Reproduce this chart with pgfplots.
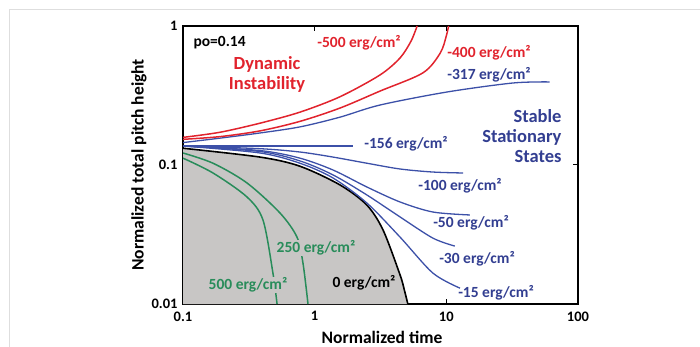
\documentclass[border=0pt]{standalone}
\usepackage{pgfplots}
\pgfplotsset{compat=1.18}
\usepackage{fontspec}
\setmainfont{Carlito}
\definecolor{cred}{RGB}{225,35,45}
\definecolor{cblue}{RGB}{60,80,168}
\definecolor{ctxtblue}{RGB}{50,62,145}
\definecolor{cgreen}{RGB}{40,140,90}
\definecolor{cgray}{RGB}{200,198,197}
\definecolor{lgray}{RGB}{222,222,222}
\newcommand{\fa}{\fontsize{17.5}{20}\selectfont\bfseries}
\newcommand{\fb}{\fontsize{15.5}{18}\selectfont\bfseries}
\newcommand{\fc}{\fontsize{18.5}{20}\selectfont\bfseries}
\begin{document}
\begin{tikzpicture}[x=1pt,y=1pt]
\path[use as bounding box] (0,0) rectangle (700,347);
\draw[line width=1pt, color=lgray] (9,0) -- (9,337) -- (700,337);
\begin{axis}[at={(183pt,43pt)}, anchor=south west, scale only axis,
  width=395pt, height=278pt,
  xmode=log, ymode=log, xmin=0.1, xmax=100, ymin=0.01, ymax=1,
  log origin y=infty,
  xtick={0.1,1,10,100}, xticklabels={0.1,1,10,100},
  ytick={0.01,0.1,1}, yticklabels={0.01,0.1,1},
  xminorticks=false, yminorticks=false,
  tick align=inside, major tick length=5pt,
  axis line style={line width=1.8pt},
  every tick/.style={black, line width=1pt},
  ticklabel style={font=\fontsize{14.5}{16}\selectfont\bfseries},
  xticklabel style={yshift=-4pt},
  yticklabel style={xshift=-2pt},
  clip=true]
% gray region under 0 erg/cm2
\addplot[smooth, draw=none, fill=cgray] coordinates {
 (0.1,0.132) (0.385,0.114) (0.773,0.098) (1.56,0.0718) (2.49,0.0515) (3.31,0.034) (4.45,0.0162) (4.8,0.0126) (5.1,0.01)} \closedcycle;
% green curves
\addplot[smooth, cgreen, line width=1.5pt] coordinates {
 (0.1,0.112) (0.169,0.0876) (0.306,0.0589) (0.405,0.0402) (0.482,0.0167) (0.518,0.01)};
\addplot[smooth, cgreen, line width=1.5pt] coordinates {
 (0.1,0.122) (0.169,0.103) (0.306,0.0743) (0.546,0.0451) (0.734,0.0303) (0.815,0.0197) (0.89,0.01)};
% black 0 curve
\addplot[smooth, black, line width=1.6pt] coordinates {
 (0.1,0.132) (0.385,0.114) (0.773,0.098) (1.56,0.0718) (2.49,0.0515) (3.31,0.034) (4.45,0.0162) (4.8,0.0126) (5.1,0.01)};
% blue curves
\addplot[smooth, cblue, line width=1.3pt] coordinates {
 (0.1,0.137) (0.385,0.122) (0.773,0.103) (1.38,0.0806) (2.49,0.0533) (4.45,0.0303) (7.9,0.0167) (12.7,0.0130)};
\addplot[smooth, cblue, line width=1.3pt] coordinates {
 (0.1,0.137) (0.385,0.125) (0.773,0.107) (1.38,0.0848) (2.49,0.0609) (4.45,0.0423) (7.9,0.0298) (11.6,0.0261)};
\addplot[smooth, cblue, line width=1.3pt] coordinates {
 (0.1,0.137) (0.385,0.127) (0.773,0.112) (1.38,0.092) (2.49,0.0695) (4.45,0.0542) (7.9,0.0459) (15.1,0.0437)};
\addplot[smooth, cblue, line width=1.3pt] coordinates {
 (0.1,0.137) (0.385,0.131) (0.773,0.124) (1.38,0.114) (2.49,0.103) (4.45,0.0936) (7.9,0.089) (13.4,0.0876)};
\addplot[cblue, line width=1.3pt] coordinates {(0.1,0.137) (1.95,0.137)};
\addplot[smooth, cblue, line width=1.3pt] coordinates {
 (0.1,0.145) (0.191,0.156) (0.385,0.170) (0.773,0.188) (1.56,0.221) (3.13,0.270) (10.1,0.335) (32,0.389) (61,0.396)};
% red curves
\addplot[smooth, cred, line width=1.5pt] coordinates {
 (0.1,0.153) (0.191,0.160) (0.385,0.176) (0.773,0.206) (1.56,0.257) (3.13,0.34) (6.64,0.46) (9.0,0.64) (10.0,0.85) (10.4,1.0)};
\addplot[smooth, cred, line width=1.5pt] coordinates {
 (0.1,0.158) (0.191,0.172) (0.385,0.200) (0.773,0.240) (1.56,0.31) (3.13,0.444) (4.45,0.589) (5.4,0.78) (6.0,1.0)};
\end{axis}
% annotations
\node[anchor=west, font=\fb] at (190,304) {po=0.14};
\node[align=center, font=\fc, text=cred] at (267,273) {Dynamic\\Instability};
\node[font=\fb, text=cred] at (359,304) {-500 erg/cm²};
\node[font=\fb, text=cred] at (489,294) {-400 erg/cm²};
\node[font=\fb, text=ctxtblue] at (489,272) {-317 erg/cm²};
\node[align=right, anchor=east, font=\fc, text=ctxtblue] at (565,210.5) {Stable\\Stationary\\States};
\node[font=\fb, text=ctxtblue] at (406,203) {-156 erg/cm²};
\node[font=\fb, text=ctxtblue] at (460,161) {-100 erg/cm²};
\node[font=\fb, text=ctxtblue] at (471,124) {-50 erg/cm²};
\node[font=\fb, text=ctxtblue] at (477,88) {-30 erg/cm²};
\node[font=\fb, text=ctxtblue] at (496,54) {-15 erg/cm²};
\node[font=\fb, text=cgreen, fill=cgray, inner sep=1pt] at (316,99) {250 erg/cm²};
\node[font=\fb, text=cgreen, fill=cgray, inner sep=1pt] at (248,62) {500 erg/cm²};
\node[font=\fb] at (364,64) {0 erg/cm²};
\node[font=\fa] at (382,10) {Normalized time};
\node[font=\fa, rotate=90] at (139,182) {Normalized total pitch height};
\end{tikzpicture}
\end{document}
